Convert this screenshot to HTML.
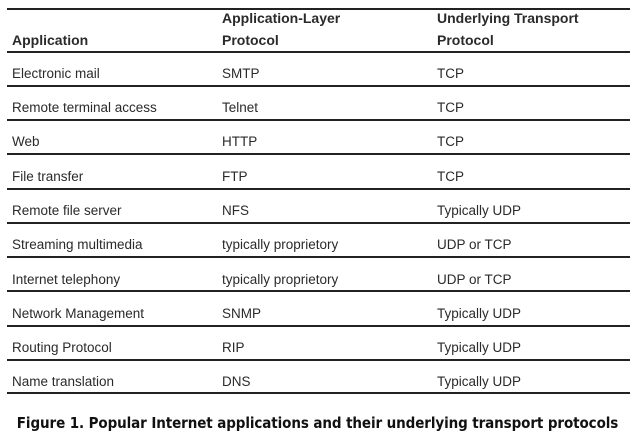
<!DOCTYPE html>
<html><head><style>
body{margin:0;width:635px;height:440px;background:#fff;position:relative;font-family:"Liberation Sans",sans-serif;color:#2a2a2a;overflow:hidden}
.l{position:absolute;left:7px;width:623px;height:2px;background:#222}
.t{position:absolute;font-size:13.5px;line-height:16px;white-space:nowrap}
.h{font-weight:bold;font-size:14px}
.cap{position:absolute;left:0;top:414px;width:635px;text-align:center;font-family:"DejaVu Sans Condensed","DejaVu Sans",sans-serif;font-stretch:condensed;font-weight:bold;font-size:15px;color:#111;white-space:nowrap;letter-spacing:-0.1px}
</style></head><body>
<div class="l" style="top:8px"></div>
<div class="t h" style="left:12px;top:32px">Application</div>
<div class="t h" style="left:222px;top:10px">Application-Layer</div>
<div class="t h" style="left:222px;top:32px">Protocol</div>
<div class="t h" style="left:437px;top:10px">Underlying Transport</div>
<div class="t h" style="left:437px;top:32px">Protocol</div>
<div class="l" style="top:51px"></div>

<div class="t" style="left:12px;top:66px">Electronic mail</div><div class="t" style="left:222px;top:66px">SMTP</div><div class="t" style="left:437px;top:66px">TCP</div>
<div class="l" style="top:85px"></div>
<div class="t" style="left:12px;top:100px">Remote terminal access</div><div class="t" style="left:222px;top:100px">Telnet</div><div class="t" style="left:437px;top:100px">TCP</div>
<div class="l" style="top:119px"></div>
<div class="t" style="left:12px;top:134px">Web</div><div class="t" style="left:222px;top:134px">HTTP</div><div class="t" style="left:437px;top:134px">TCP</div>
<div class="l" style="top:153px"></div>
<div class="t" style="left:12px;top:169px">File transfer</div><div class="t" style="left:222px;top:169px">FTP</div><div class="t" style="left:437px;top:169px">TCP</div>
<div class="l" style="top:188px"></div>
<div class="t" style="left:12px;top:203px">Remote file server</div><div class="t" style="left:222px;top:203px">NFS</div><div class="t" style="left:437px;top:203px">Typically UDP</div>
<div class="l" style="top:222px"></div>
<div class="t" style="left:12px;top:237px">Streaming multimedia</div><div class="t" style="left:222px;top:237px">typically proprietory</div><div class="t" style="left:437px;top:237px">UDP or TCP</div>
<div class="l" style="top:256px"></div>
<div class="t" style="left:12px;top:272px">Internet telephony</div><div class="t" style="left:222px;top:272px">typically proprietory</div><div class="t" style="left:437px;top:272px">UDP or TCP</div>
<div class="l" style="top:290px"></div>
<div class="t" style="left:12px;top:306px">Network Management</div><div class="t" style="left:222px;top:306px">SNMP</div><div class="t" style="left:437px;top:306px">Typically UDP</div>
<div class="l" style="top:325px"></div>
<div class="t" style="left:12px;top:340px">Routing Protocol</div><div class="t" style="left:222px;top:340px">RIP</div><div class="t" style="left:437px;top:340px">Typically UDP</div>
<div class="l" style="top:359px"></div>
<div class="t" style="left:12px;top:374px">Name translation</div><div class="t" style="left:222px;top:374px">DNS</div><div class="t" style="left:437px;top:374px">Typically UDP</div>
<div class="l" style="top:392px"></div>

<div class="cap">Figure 1. Popular Internet applications and their underlying transport protocols</div>
</body></html>
